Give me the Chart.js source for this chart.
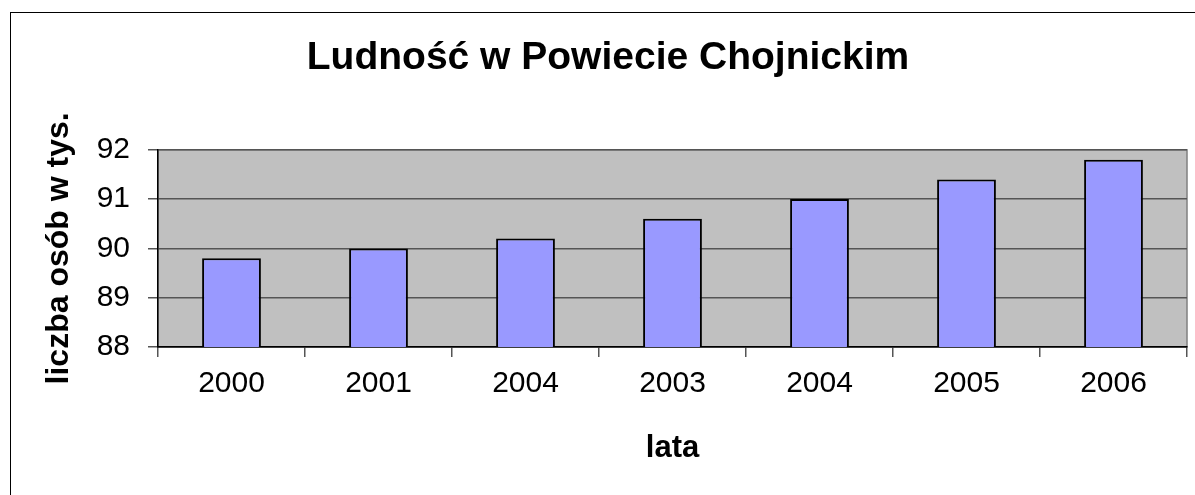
<!DOCTYPE html>
<html>
<head>
<meta charset="utf-8">
<script src="https://cdn.jsdelivr.net/npm/chart.js@4"></script>
<style>
    html, body { margin: 0; padding: 0; background: #fff; overflow: hidden; }
    #frame {
        position: absolute; left: 10px; top: 12px;
        width: 1300px; height: 600px;
        border: 1px solid #000;
    }
    #wrap { position: absolute; left: 0; top: 0; width: 1195px; height: 495px; }
</style>
</head>
<body>
<div id="frame"></div>
<div id="wrap"><canvas id="chart"></canvas></div>
<script>
const chartTitle = 'Ludność w Powiecie Chojnickim';
const xTitle = 'lata';
const yTitle = 'liczba osób w tys.';
const years = ['2000', '2001', '2004', '2003', '2004', '2005', '2006'];
const population = [89.8, 90.0, 90.2, 90.6, 91.0, 91.4, 91.8];
const yMin = 88;
const yMax = 92;

const fontFamily = '"Liberation Sans", Arial, sans-serif';

// Grey plot area with a grey border, like the old spreadsheet charts
const plotBackground = {
    id: 'plotBackground',
    beforeDraw(chart) {
        const {ctx, chartArea: a} = chart;
        ctx.save();
        ctx.fillStyle = '#C0C0C0';
        ctx.fillRect(a.left, a.top, a.right - a.left, a.bottom - a.top);
        ctx.strokeStyle = '#808080';
        ctx.lineWidth = 1.5;
        ctx.strokeRect(a.left, a.top, a.right - a.left, a.bottom - a.top);
        ctx.restore();
    }
};

new Chart(document.getElementById('chart').getContext('2d'), {
    type: 'bar',
    data: {
        labels: years,
        datasets: [{
            data: population,
            backgroundColor: '#9999FF',
            borderColor: '#000',
            borderWidth: 2,
            categoryPercentage: 1,
            barPercentage: 0.4
        }]
    },
    plugins: [plotBackground],
    options: {
        responsive: true,
        maintainAspectRatio: false,
        animation: false,
        layout: { padding: { left: 29, right: 8, top: 0, bottom: 0 } },
        scales: {
            x: {
                afterFit: (scale) => { scale.height = 148; },
                grid: {
                    drawOnChartArea: false,
                    drawTicks: true,
                    tickLength: 10,
                    color: '#555',
                    lineWidth: 1.5
                },
                border: { display: true, color: '#000', width: 1.5 },
                ticks: {
                    padding: 9,
                    color: '#000',
                    font: { family: fontFamily, size: 30 }
                },
                title: {
                    display: true,
                    text: xTitle,
                    color: '#000',
                    padding: { top: 0, bottom: 28 },
                    font: { family: fontFamily, size: 31, weight: 'bold' }
                }
            },
            y: {
                min: yMin,
                max: yMax,
                afterFit: (scale) => { scale.width = 129; },
                grid: {
                    tickLength: 10,
                    color: '#555',
                    lineWidth: 1.5
                },
                border: { display: true, color: '#000', width: 1.5 },
                ticks: {
                    stepSize: 1,
                    padding: 18,
                    color: '#000',
                    font: { family: fontFamily, size: 30 }
                },
                title: {
                    display: true,
                    text: yTitle,
                    color: '#000',
                    padding: { top: 11, bottom: 0 },
                    font: { family: fontFamily, size: 32, weight: 'bold' }
                }
            }
        },
        plugins: {
            legend: { display: false },
            tooltip: { enabled: false },
            title: {
                display: true,
                text: chartTitle,
                color: '#000',
                padding: { top: 35, bottom: 68 },
                font: { family: fontFamily, size: 39, weight: 'bold' }
            }
        }
    }
});
</script>
</body>
</html>
